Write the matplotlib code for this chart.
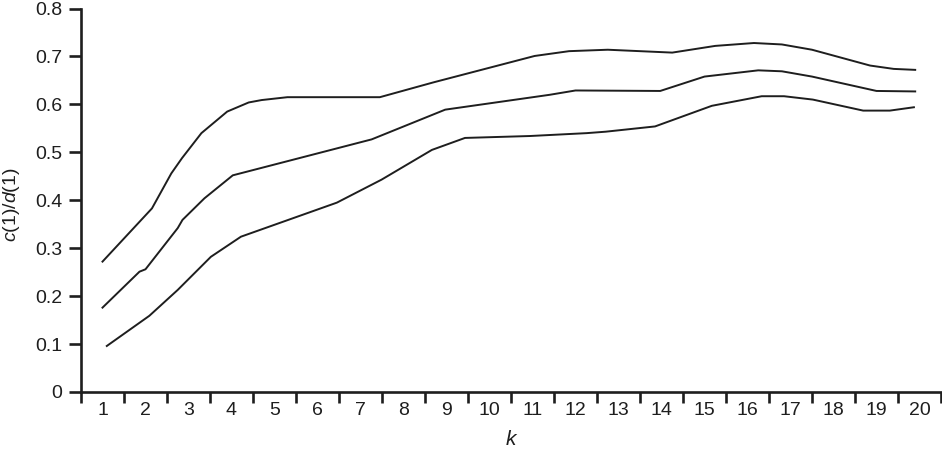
import matplotlib
matplotlib.use('Agg')
import matplotlib.pyplot as plt
from matplotlib.ticker import FixedLocator

plt.rcParams['font.family'] = ['Liberation Sans', 'DejaVu Sans']
plt.rcParams['mathtext.fontset'] = 'custom'
plt.rcParams['mathtext.it'] = 'Liberation Sans:italic'
plt.rcParams['mathtext.rm'] = 'Liberation Sans'

# values (k positions, c(1)/d(1))
k_upper = [1.0, 2.15, 2.6, 2.85, 3.3, 3.9, 4.4, 4.7, 5.3, 7.45, 8.7, 11.05,
           11.85, 12.75, 14.25, 15.25, 16.15, 16.8, 17.5, 18.85, 19.4, 19.9]
upper = [0.272, 0.383, 0.456, 0.488, 0.540, 0.585, 0.604, 0.609, 0.615, 0.615,
         0.646, 0.701, 0.711, 0.714, 0.708, 0.722, 0.728, 0.725, 0.714, 0.681,
         0.674, 0.672]

k_mid = [1.0, 1.86, 2.0, 2.75, 2.86, 3.37, 4.03, 7.26, 8.97, 11.4, 12.0,
         13.97, 15.0, 16.25, 16.8, 17.5, 19.0, 19.9]
mid = [0.176, 0.251, 0.256, 0.342, 0.359, 0.404, 0.452, 0.527, 0.589, 0.620,
       0.629, 0.628, 0.658, 0.671, 0.669, 0.658, 0.628, 0.627]

k_lower = [1.1, 2.09, 2.75, 3.52, 4.22, 6.45, 7.49, 8.66, 9.43, 10.94, 12.26,
           12.7, 13.85, 15.17, 16.33, 16.85, 17.52, 18.69, 19.31, 19.87]
lower = [0.096, 0.159, 0.213, 0.282, 0.324, 0.395, 0.443, 0.505, 0.530, 0.534,
         0.540, 0.543, 0.554, 0.597, 0.617, 0.617, 0.610, 0.587, 0.587, 0.594]

k_labels = [str(i) for i in range(1, 21)]
y_ticks = [0, 0.1, 0.2, 0.3, 0.4, 0.5, 0.6, 0.7, 0.8]

fig = plt.figure(figsize=(9.42, 4.51), dpi=100)
ax = fig.add_axes([81/942, 59/451, 860/942, 383.5/451])

line_col = '#1e1e1e'
for kx, vals in ((k_upper, upper), (k_mid, mid), (k_lower, lower)):
    ax.plot(kx, vals, color=line_col, lw=1.4, solid_joinstyle='round')

ax.set_xlim(0.5, 20.5)
ax.set_ylim(0, 0.8)

# labels at category centres, tick marks at the boundaries
ax.set_xticks(range(1, 21))
ax.set_xticklabels(k_labels)
ax.xaxis.set_minor_locator(FixedLocator([i + 0.5 for i in range(0, 21)]))
ax.tick_params(axis='x', which='major', length=0, pad=7, labelsize=14)
ax.tick_params(axis='x', which='minor', length=8, width=1.9, direction='out')

ax.set_yticks(y_ticks)
ax.set_yticklabels(['0' if v == 0 else '%.1f' % v for v in y_ticks])
ax.tick_params(axis='y', length=8.5, width=1.9, pad=5, labelsize=14)

for side in ('top', 'right'):
    ax.spines[side].set_visible(False)
for side in ('left', 'bottom'):
    ax.spines[side].set_linewidth(1.9)
    ax.spines[side].set_color('#1e1e1e')
ax.tick_params(colors='#1e1e1e', which='both')

ax.set_ylabel(r'$c$(1)/$d$(1)', fontsize=14, color='#1e1e1e')
ax.yaxis.set_label_coords(-0.0686, 0.488)
ax.set_xlabel(r'$k$', fontsize=15, color='#1e1e1e')
ax.xaxis.set_label_coords(0.501, -0.099)

fig.savefig('out.png', dpi=100)
